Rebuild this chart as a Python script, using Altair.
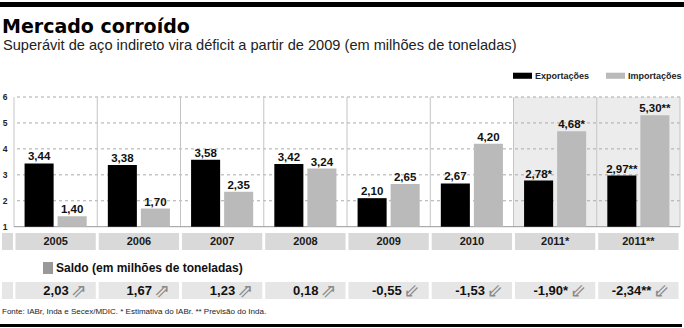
import altair as alt
import pandas as pd

# ---- data ----
years = ["2005", "2006", "2007", "2008", "2009", "2010", "2011*", "2011**"]
exportacoes = [3.44, 3.38, 3.58, 3.42, 2.10, 2.67, 2.78, 2.97]
importacoes = [1.40, 1.70, 2.35, 3.24, 2.65, 4.20, 4.68, 5.30]
saldo = [2.03, 1.67, 1.23, 0.18, -0.55, -1.53, -1.90, -2.34]
notes = ["", "", "", "", "", "", "*", "**"]
series = ["Exportações", "Importações"]
series_colors = ["#000000", "#bababa"]
forecast_years = ["2011*", "2011**"]
y_ticks = [1, 2, 3, 4, 5, 6]
grid_ticks = [2, 3, 4, 5, 6]

title_text = "Mercado corroído"
subtitle_text = "Superávit de aço indireto vira déficit a partir de 2009 (em milhões de toneladas)"
saldo_title = "Saldo (em milhões de toneladas)"
footer_text = "Fonte: IABr, Inda e Secex/MDIC. * Estimativa do IABr. ** Previsão do Inda."


def fmt(v, n):
    return f"{v:.2f}".replace(".", ",") + n


bars_df = pd.DataFrame(
    [
        {"year": y, "series": s, "value": v, "label": fmt(v, n)}
        for s, vals in zip(series, [exportacoes, importacoes])
        for y, v, n in zip(years, vals, notes)
    ]
)
rows_df = pd.DataFrame(
    {
        "year": years,
        "saldo": saldo,
        "saldo_label": [fmt(v, n) for v, n in zip(saldo, notes)],
        "arrow": ["⇗" if v > 0 else "⇙" for v in saldo],
    }
)
grid_df = pd.DataFrame({"tick": grid_ticks})
one_df = pd.DataFrame({"a": [0]})

W, H = 666, 268
FONT = "Liberation Sans"

x_scale = alt.Scale(domain=years, paddingInner=0, paddingOuter=0)
y_scale = alt.Scale(domain=[-2.905, 7.426], nice=False, zero=False)
y_axis = alt.Axis(
    values=y_ticks,
    grid=False,
    domain=False,
    ticks=False,
    labelPadding=7,
    labelFont=FONT,
    labelFontWeight="bold",
    labelFontSize=8.5,
    labelColor="#222222",
    title=None,
)
X = alt.X("year:N", scale=x_scale, axis=None)

base_rows = alt.Chart(rows_df)

# shaded forecast columns
shade = base_rows.transform_filter(
    alt.FieldOneOfPredicate(field="year", oneOf=forecast_years)
).mark_rect(color="#ececec").encode(
    x=X,
    y=alt.Y(datum=6, scale=y_scale, axis=y_axis),
    y2=alt.Y2(datum=1),
)

# dashed grid lines
grid = alt.Chart(grid_df).mark_rule(color="#aaaaaa", strokeDash=[3, 3], strokeWidth=1).encode(
    y=alt.Y("tick:Q", scale=y_scale, axis=y_axis)
)

# column separators
seps = base_rows.mark_rule(color="#c4c4c4", strokeWidth=1).encode(
    x=alt.X("year:N", scale=x_scale, axis=None, bandPosition=0),
    y=alt.Y(datum=6, scale=y_scale, axis=y_axis),
    y2=alt.Y2(datum=1),
)
sep_end = base_rows.transform_filter(alt.datum.year == years[-1]).mark_rule(
    color="#c4c4c4", strokeWidth=1
).encode(
    x=alt.X("year:N", scale=x_scale, axis=None, bandPosition=1),
    y=alt.Y(datum=6, scale=y_scale, axis=y_axis),
    y2=alt.Y2(datum=1),
)

baseline = alt.Chart(one_df).mark_rule(color="#999999", strokeWidth=1).encode(
    y=alt.Y(datum=1, scale=y_scale, axis=y_axis)
)

xoff = alt.XOffset(
    "series:N", scale=alt.Scale(domain=series, paddingInner=0.121, paddingOuter=0.32)
)

bars = alt.Chart(bars_df).mark_bar().encode(
    x=X,
    xOffset=xoff,
    y=alt.Y("value:Q", scale=y_scale, axis=y_axis),
    y2=alt.Y2(datum=1),
    color=alt.Color(
        "series:N",
        scale=alt.Scale(domain=series, range=series_colors),
        legend=alt.Legend(
            orient="none",
            legendX=499,
            legendY=6,
            direction="horizontal",
            title=None,
            symbolType="M-1,-0.32H1V0.32H-1Z",
            symbolSize=361,
            symbolStrokeWidth=0,
            symbolOpacity=1,
            labelFont=FONT,
            labelFontSize=9,
            labelFontWeight="bold",
            labelColor="#222222",
            labelOffset=3,
            columnPadding=16,
            padding=0,
        ),
    ),
)

bar_labels = alt.Chart(bars_df).mark_text(
    font=FONT, fontSize=11.5, fontWeight="bold", color="#111111",
    baseline="alphabetic", dy=-3,
).encode(
    x=X,
    xOffset=xoff,
    y=alt.Y("value:Q", scale=y_scale, axis=y_axis),
    text="label:N",
)

# year row
year_boxes = base_rows.mark_bar(color="#d9d9d9", width=alt.RelativeBandSize(0.965)).encode(
    x=X, y=alt.value(173), y2=alt.value(190)
)
year_text = base_rows.mark_text(
    font=FONT, fontSize=11, fontWeight="bold", color="#1a1a1a", baseline="middle"
).encode(x=X, y=alt.value(182), text="year:N")
year_left = alt.Chart(one_df).mark_rect(color="#d9d9d9").encode(
    x=alt.value(-12), x2=alt.value(-1), y=alt.value(173), y2=alt.value(190)
)

# saldo legend
saldo_sq = alt.Chart(one_df).mark_rect(color="#999999").encode(
    x=alt.value(29), x2=alt.value(39), y=alt.value(202), y2=alt.value(214)
)
saldo_head = alt.Chart(pd.DataFrame({"t": [saldo_title]})).mark_text(
    font=FONT, fontSize=12, fontWeight="bold", color="#111111", align="left", baseline="middle"
).encode(x=alt.value(42), y=alt.value(208), text="t:N")

# saldo row
saldo_boxes = base_rows.mark_bar(color="#e6e6e6", width=alt.RelativeBandSize(0.965)).encode(
    x=X, y=alt.value(222), y2=alt.value(239)
)
saldo_left = alt.Chart(one_df).mark_rect(color="#e6e6e6").encode(
    x=alt.value(-12), x2=alt.value(-1), y=alt.value(222), y2=alt.value(239)
)
saldo_vals = base_rows.mark_text(
    font=FONT, fontSize=13, fontWeight="bold", color="#111111", align="right",
    baseline="middle", dx=13,
).encode(x=X, y=alt.value(231), text="saldo_label:N")
saldo_arrows = base_rows.mark_text(
    font="DejaVu Sans", fontSize=19, color="#8a8a8a", align="left", baseline="middle", dx=15,
).encode(x=X, y=alt.value(231), text="arrow:N")

# title, subtitle, footer
title_mark = alt.Chart(pd.DataFrame({"t": [title_text]})).mark_text(
    font="DejaVu Sans", fontSize=19, fontWeight="bold", color="#000000",
    align="left", baseline="alphabetic",
).encode(x=alt.value(-12), y=alt.value(-27), text="t:N")
subtitle_mark = alt.Chart(pd.DataFrame({"t": [subtitle_text]})).mark_text(
    font=FONT, fontSize=14.6, color="#222222", align="left", baseline="alphabetic",
).encode(x=alt.value(-11), y=alt.value(-10.5), text="t:N")
footer = alt.Chart(pd.DataFrame({"t": [footer_text]})).mark_text(
    font=FONT, fontSize=8, color="#222222", align="left", baseline="middle"
).encode(x=alt.value(-12), y=alt.value(252), text="t:N")

top_bar = alt.Chart(one_df).mark_rect(color="#000000").encode(
    x=alt.value(-14), x2=alt.value(670), y=alt.value(-58), y2=alt.value(-53)
)
bottom_bar = alt.Chart(one_df).mark_rect(color="#000000").encode(
    x=alt.value(-14), x2=alt.value(668), y=alt.value(264), y2=alt.value(267)
)

chart = alt.layer(
    shade, grid, seps, sep_end, baseline, bars, bar_labels,
    year_boxes, year_left, year_text,
    saldo_sq, saldo_head, saldo_boxes, saldo_left, saldo_vals, saldo_arrows,
    title_mark, subtitle_mark, footer, top_bar, bottom_bar,
).properties(
    width=W,
    height=H,
    autosize=alt.AutoSizeParams(type="none"),
    padding={"left": 14, "top": 60, "right": 4, "bottom": 0},
    background="white",
).configure_view(stroke=None)

chart.save("out.html", embed_options={"renderer": "svg", "actions": False})
